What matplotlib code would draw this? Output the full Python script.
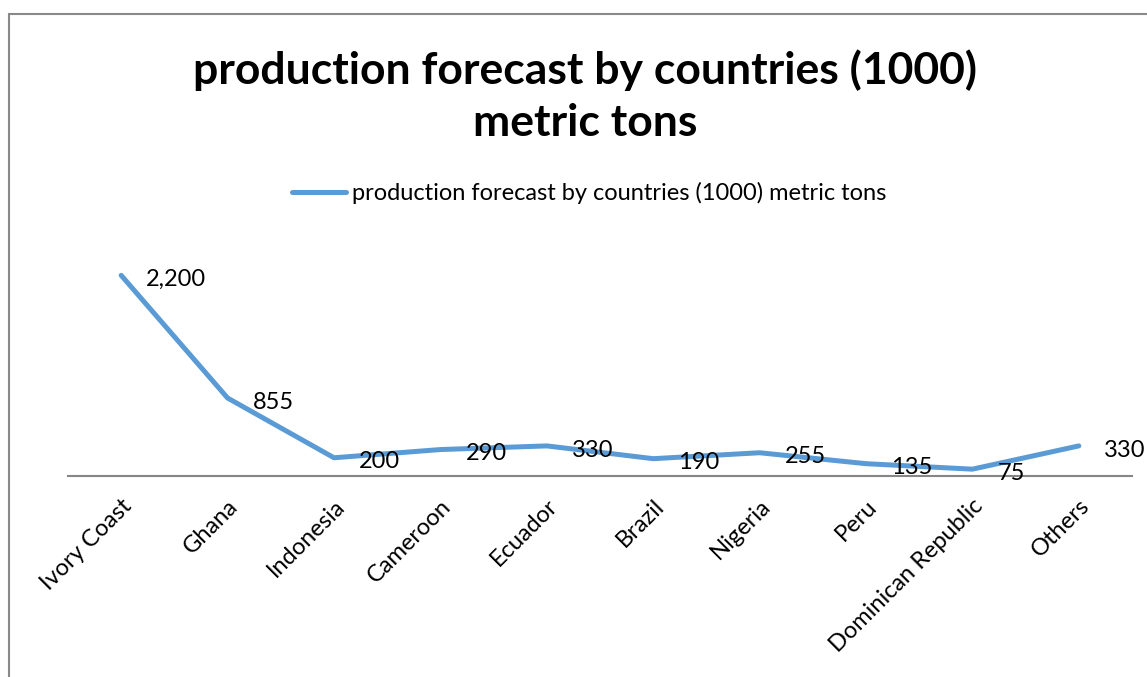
import matplotlib
matplotlib.use("Agg")
import matplotlib.pyplot as plt
from matplotlib.patches import Rectangle

countries = ["Ivory Coast", "Ghana", "Indonesia", "Cameroon", "Ecuador",
             "Brazil", "Nigeria", "Peru", "Dominican Republic", "Others"]
production = [2200, 855, 200, 290, 330, 190, 255, 135, 75, 330]
series_name = "production forecast by countries (1000) metric tons"

plt.rcParams["font.family"] = ["Lato", "DejaVu Sans"]
W, H = 1147, 677
fig = plt.figure(figsize=(W / 100, H / 100), dpi=100)

# outer chart frame (runs off the right and bottom edges)
fig.patches.append(Rectangle((9 / W, -0.1), 1.2, (H - 14) / H + 0.1,
                             transform=fig.transFigure, fill=False,
                             edgecolor="#898989", linewidth=1.5))

ax = fig.add_axes([68 / W, (H - 476) / H, (1132 - 68) / W, (476 - 248) / H])
x = list(range(len(countries)))
line, = ax.plot(x, production, color="#5B9BD5", linewidth=3.6,
                solid_capstyle="round", solid_joinstyle="round", label=series_name)
for xi, v in zip(x, production):
    ax.annotate(f"{v:,}", (xi, v), xytext=(18, -3), textcoords="offset points",
                ha="left", va="center", fontsize=17, color="black")

ax.set_xlim(-0.5, len(countries) - 0.5)
ax.set_ylim(0, 2500)
for s in ("top", "right", "left"):
    ax.spines[s].set_visible(False)
ax.spines["bottom"].set_color("#868686")
ax.spines["bottom"].set_linewidth(1.5)
ax.set_yticks([])
ax.set_xticks(x)
ax.set_xticklabels(countries, rotation=45, ha="right", va="top",
                   rotation_mode="anchor", fontsize=17)
ax.tick_params(axis="x", length=0, pad=14)

fig.text(585 / W, 1 - 70 / H, "production forecast by countries (1000)",
         ha="center", va="center", fontsize=32, fontweight="bold")
fig.text(585 / W, 1 - 123 / H, "metric tons",
         ha="center", va="center", fontsize=32, fontweight="bold")
fig.legend(handles=[line], loc="center", bbox_to_anchor=(589 / W, 1 - 193 / H),
           frameon=False, fontsize=17, handlelength=2.3, handletextpad=0.25)

fig.savefig("out.png", dpi=100)
